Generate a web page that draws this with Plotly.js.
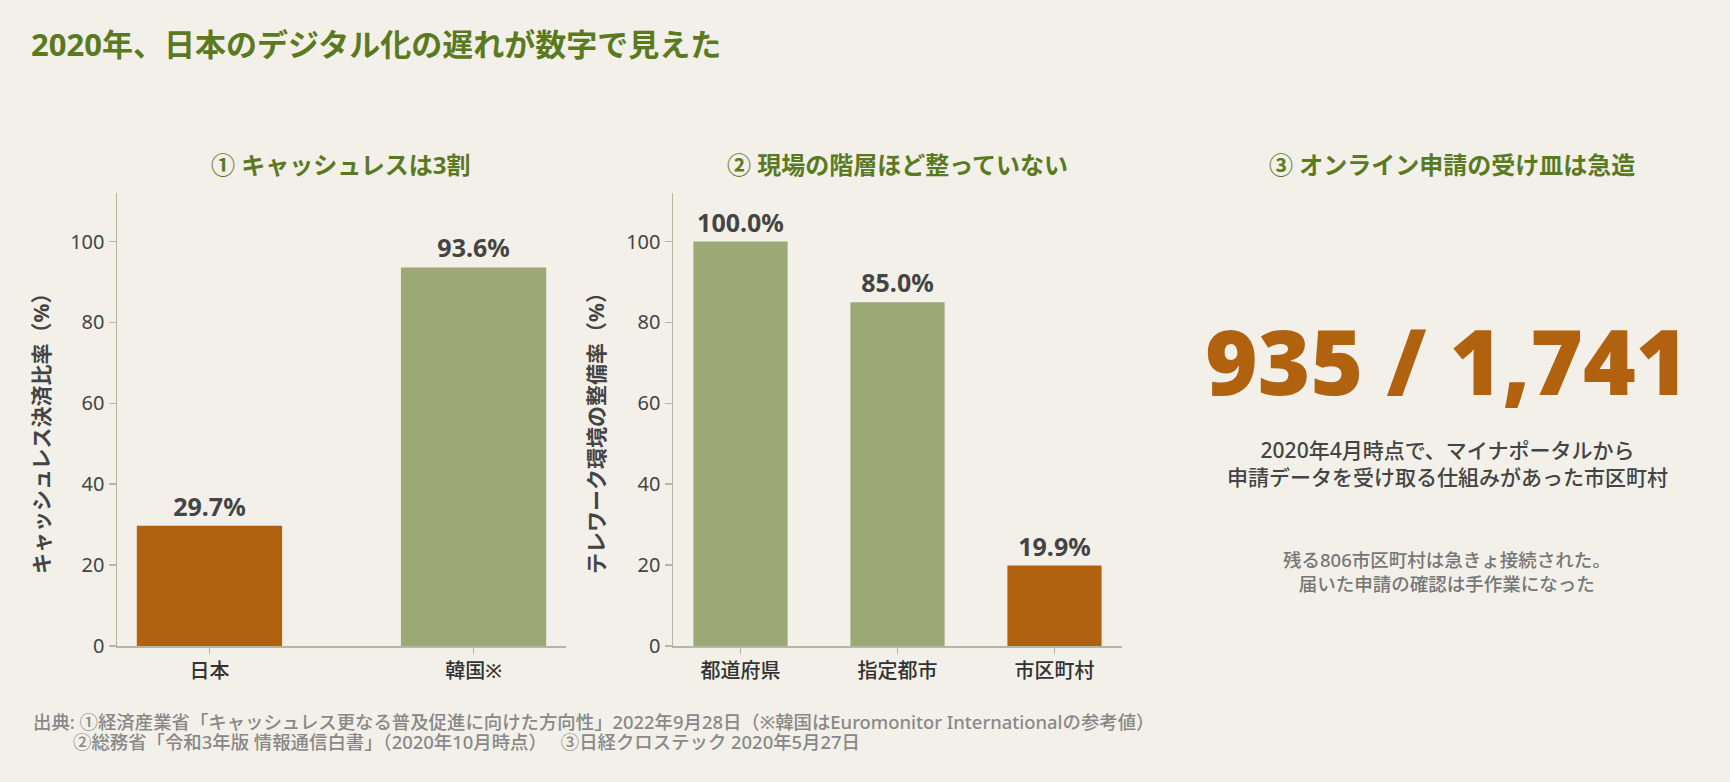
<!DOCTYPE html>
<html>
<head>
<meta charset="utf-8">
<script src="https://cdn.plot.ly/plotly-3.0.1.min.js"></script>
<style>
  html, body { margin: 0; padding: 0; background: #f2f0e9; }
  #chart { width: 1730px; height: 782px; }
</style>
</head>
<body>
<div id="chart"></div>
<script>
// ① キャッシュレス決済比率
const cashCats = ['日本', '韓国※'];
const cashVals = [29.7, 93.6];
// ② テレワーク環境の整備率
const teleCats = ['都道府県', '指定都市', '市区町村'];
const teleVals = [100.0, 85.0, 19.9];
// ③ オンライン申請の受け皿
const onlineCount = 935;
const totalCount = 1741;
const yTicks = [0, 20, 40, 60, 80, 100];

const ORANGE = '#b1620f';
const GREEN = '#9ca876';
const TEXT = '#444444';
const AXIS = '#b4b7a4';
const TITLE_GREEN = '#5b7a1f';
// 数字・英字は Noto Sans、かなと漢字は CJK にフォールバック
const FONT = 'Noto Sans, Noto Sans CJK JP, sans-serif';

const W = 1730, H = 782;
const px = v => v / W;
const py = v => 1 - v / H;

// 低い値（遅れ）をオレンジで強調
function barColors(cats, hi) {
  return cats.map(c => (c === hi ? ORANGE : GREEN));
}

const traces = [
  {
    x: cashCats,
    y: cashVals,
    type: 'bar',
    width: 0.55,
    marker: { color: barColors(cashCats, '日本') },
    text: cashVals.map(v => v.toFixed(1) + '%'),
    textposition: 'outside',
    textfont: { family: FONT, size: 25, color: TEXT, weight: 700 },
    cliponaxis: false,
    xaxis: 'x',
    yaxis: 'y',
    hoverinfo: 'skip'
  },
  {
    x: teleCats,
    y: teleVals,
    type: 'bar',
    width: 0.6,
    marker: { color: barColors(teleCats, '市区町村') },
    text: teleVals.map(v => v.toFixed(1) + '%'),
    textposition: 'outside',
    textfont: { family: FONT, size: 25, color: TEXT, weight: 700 },
    cliponaxis: false,
    xaxis: 'x2',
    yaxis: 'y2',
    hoverinfo: 'skip'
  }
];

function xAxis(domain, range) {
  return {
    domain: domain,
    range: range,
    showline: true,
    linecolor: AXIS,
    linewidth: 1.5,
    ticks: 'outside',
    ticklen: 6,
    tickwidth: 1.5,
    tickcolor: AXIS,
    showgrid: false,
    zeroline: false,
    tickfont: { family: FONT, size: 20, color: '#333333', weight: 500 },
    fixedrange: true
  };
}

function yAxis(anchor) {
  return {
    domain: [py(646), py(193)],
    range: [0, 112],
    anchor: anchor,
    tickvals: yTicks,
    showline: true,
    linecolor: AXIS,
    linewidth: 1.5,
    ticks: 'outside',
    ticklen: 7,
    tickwidth: 1.5,
    tickcolor: AXIS,
    showgrid: false,
    zeroline: false,
    tickfont: { family: FONT, size: 20, color: TEXT },
    fixedrange: true
  };
}

const annotations = [
  // 小見出し
  { text: '① キャッシュレスは3割', x: px(341), y: py(164) },
  { text: '② 現場の階層ほど整っていない', x: px(897), y: py(164) },
  { text: '③ オンライン申請の受け皿は急造', x: px(1452), y: py(164) }
].map(a => Object.assign(a, {
  xref: 'paper', yref: 'paper', xanchor: 'center', yanchor: 'middle', showarrow: false,
  font: { family: FONT, size: 24, color: TITLE_GREEN, weight: 700 }
}));

annotations.push(
  {
    text: 'キャッシュレス決済比率（%）', textangle: -90,
    x: px(41), y: py(428), xref: 'paper', yref: 'paper', showarrow: false,
    xanchor: 'center', yanchor: 'middle',
    font: { family: FONT, size: 21, color: TEXT, weight: 700 }
  },
  {
    text: 'テレワーク環境の整備率（%）', textangle: -90,
    x: px(596), y: py(428), xref: 'paper', yref: 'paper', showarrow: false,
    xanchor: 'center', yanchor: 'middle',
    font: { family: FONT, size: 21, color: TEXT, weight: 700 }
  },
  {
    text: onlineCount.toLocaleString('en-US') + ' / ' + totalCount.toLocaleString('en-US'),
    x: px(1447), y: py(360), xref: 'paper', yref: 'paper', showarrow: false,
    xanchor: 'center', yanchor: 'middle',
    font: { family: 'Noto Sans, sans-serif', size: 90, color: ORANGE, weight: 900 }
  },
  {
    text: '2020年4月時点で、マイナポータルから<br>申請データを受け取る仕組みがあった市区町村',
    x: px(1447), y: py(463), xref: 'paper', yref: 'paper', showarrow: false,
    xanchor: 'center', yanchor: 'middle', align: 'center',
    font: { family: FONT, size: 21, color: TEXT, weight: 500 }
  },
  {
    text: '残る' + (totalCount - onlineCount) + '市区町村は急きょ接続された。<br>届いた申請の確認は手作業になった',
    x: px(1447), y: py(571), xref: 'paper', yref: 'paper', showarrow: false,
    xanchor: 'center', yanchor: 'middle', align: 'center',
    font: { family: FONT, size: 18.5, color: '#777777', weight: 500 }
  },
  {
    text: '出典: ①経済産業省「キャッシュレス更なる普及促進に向けた方向性」2022年9月28日（※韓国はEuromonitor Internationalの参考値）',
    x: px(31), y: py(721), xref: 'paper', yref: 'paper', showarrow: false,
    xanchor: 'left', yanchor: 'middle',
    font: { family: FONT, size: 18.4, color: '#888888', weight: 500 }
  },
  {
    text: '②総務省「令和3年版 情報通信白書」（2020年10月時点）　 ③日経クロステック 2020年5月27日',
    x: px(71), y: py(741), xref: 'paper', yref: 'paper', showarrow: false,
    xanchor: 'left', yanchor: 'middle',
    font: { family: FONT, size: 18.4, color: '#888888', weight: 500 }
  }
);

const layout = {
  width: W,
  height: H,
  margin: { l: 0, r: 0, t: 0, b: 0 },
  paper_bgcolor: '#f2f0e9',
  plot_bgcolor: '#f2f0e9',
  showlegend: false,
  title: {
    text: '2020年、日本のデジタル化の遅れが数字で見えた',
    x: px(31), xanchor: 'left', xref: 'paper',
    y: py(45), yanchor: 'middle', yref: 'container',
    font: { family: FONT, size: 31, color: TITLE_GREEN, weight: 700 }
  },
  xaxis: Object.assign(xAxis([px(117), px(566)], [-0.35, 1.35]), { anchor: 'y' }),
  yaxis: yAxis('x'),
  xaxis2: Object.assign(xAxis([px(673), px(1122)], [-0.43, 2.43]), { anchor: 'y2' }),
  yaxis2: yAxis('x2'),
  annotations: annotations
};

Plotly.newPlot('chart', traces, layout, { displayModeBar: false, staticPlot: true });
</script>
</body>
</html>
